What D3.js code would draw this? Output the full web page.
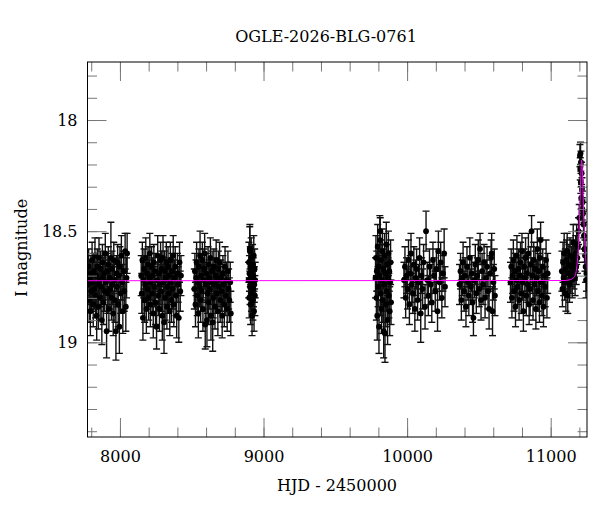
<!DOCTYPE html>
<html>
<head>
<meta charset="utf-8">
<script src="https://cdn.jsdelivr.net/npm/d3@7"></script>
<style>
  body { margin: 0; background: #fff; }
  svg { display: block; font-family: "DejaVu Serif", serif; }
</style>
</head>
<body>
<svg id="chart" width="600" height="512"></svg>
<script>
// photometry, one list per observing season: [HJD-2450000, I mag, error]
const season1 = [
  [7778,18.74,0.09],[7782,18.66,0.08],[7786,18.81,0.10],[7790,18.71,0.08],[7794,18.86,0.11],
  [7798,18.69,0.08],[7802,18.77,0.09],[7806,18.63,0.08],[7810,18.73,0.09],[7814,18.83,0.10],
  [7818,18.68,0.08],[7822,18.76,0.09],[7826,18.61,0.08],[7830,18.79,0.10],[7834,18.70,0.08],
  [7838,18.88,0.11],[7842,18.66,0.08],[7846,18.74,0.09],[7850,18.84,0.10],[7854,18.62,0.09],
  [7858,18.72,0.08],[7862,18.80,0.10],[7866,18.67,0.08],[7870,18.75,0.09],[7874,18.90,0.11],
  [7878,18.64,0.08],[7882,18.71,0.09],[7886,18.82,0.10],[7890,18.69,0.08],[7894,18.77,0.09],
  [7898,18.60,0.09],[7902,18.73,0.08],[7907,18.95,0.12],[7911,18.68,0.08],[7915,18.78,0.09],
  [7919,18.65,0.08],[7923,18.85,0.10],[7927,18.71,0.08],[7931,18.76,0.09],[7937,18.62,0.16],
  [7941,18.80,0.10],[7945,18.67,0.08],[7949,18.74,0.09],[7953,18.87,0.10],[7957,18.63,0.08],
  [7961,18.72,0.09],[7965,18.81,0.10],[7972,18.95,0.13],[7976,18.69,0.08],[7980,18.75,0.09],
  [7984,18.64,0.08],[7988,18.83,0.10],[7992,18.70,0.08],[7996,18.93,0.12],[8000,18.66,0.09],
  [8005,18.78,0.09],[8010,18.61,0.09],[8015,18.73,0.08],[8020,18.86,0.10],[8025,18.68,0.09],
  [8030,18.77,0.09],[8036,18.59,0.08],[8041,18.84,0.11],[8046,18.71,0.09],[8050,18.60,0.09]
];
const season2 = [
  [8148,18.70,0.09],[8152,18.78,0.09],[8156,18.63,0.08],[8160,18.89,0.10],[8164,18.72,0.08],
  [8168,18.67,0.09],[8172,18.81,0.10],[8176,18.74,0.08],[8180,18.62,0.09],[8184,18.85,0.11],
  [8188,18.69,0.08],[8192,18.76,0.09],[8196,18.65,0.08],[8200,18.80,0.10],[8204,18.71,0.08],
  [8208,18.60,0.09],[8212,18.83,0.10],[8216,18.73,0.08],[8220,18.66,0.09],[8224,18.78,0.09],
  [8228,18.70,0.08],[8232,18.87,0.11],[8236,18.64,0.08],[8240,18.75,0.09],[8244,18.68,0.08],
  [8248,18.82,0.10],[8255,18.93,0.10],[8259,18.72,0.08],[8263,18.61,0.09],[8267,18.79,0.09],
  [8271,18.69,0.08],[8275,18.85,0.10],[8279,18.74,0.09],[8283,18.63,0.08],[8287,18.77,0.09],
  [8291,18.67,0.08],[8295,18.88,0.11],[8300,18.62,0.10],[8304,18.73,0.08],[8307,18.91,0.14],
  [8311,18.68,0.09],[8315,18.80,0.10],[8319,18.71,0.08],[8323,18.64,0.09],[8327,18.84,0.10],
  [8331,18.75,0.08],[8335,18.66,0.09],[8339,18.78,0.09],[8343,18.70,0.08],[8347,18.86,0.11],
  [8351,18.63,0.08],[8355,18.73,0.09],[8359,18.81,0.10],[8363,18.68,0.08],[8367,18.76,0.09],
  [8371,18.61,0.09],[8375,18.83,0.10],[8380,18.71,0.08],[8385,18.66,0.09],[8390,18.79,0.09],
  [8395,18.88,0.10],[8400,18.69,0.09],[8405,18.74,0.08],[8410,18.89,0.11],[8415,18.64,0.09],
  [8420,18.77,0.09],[8425,18.70,0.09]
];
const season3 = [
  [8518,18.76,0.09],[8522,18.68,0.08],[8526,18.83,0.10],[8530,18.71,0.08],[8534,18.64,0.09],
  [8538,18.79,0.09],[8542,18.73,0.08],[8546,18.87,0.11],[8550,18.66,0.08],[8554,18.75,0.09],
  [8558,18.61,0.11],[8562,18.81,0.10],[8566,18.70,0.08],[8570,18.77,0.09],[8574,18.63,0.08],
  [8578,18.85,0.10],[8582,18.72,0.08],[8586,18.67,0.09],[8590,18.60,0.09],[8594,18.92,0.11],
  [8598,18.74,0.08],[8602,18.69,0.09],[8606,18.90,0.12],[8610,18.78,0.09],[8614,18.65,0.08],
  [8618,18.82,0.10],[8622,18.71,0.08],[8626,18.76,0.09],[8630,18.62,0.09],[8634,18.88,0.11],
  [8638,18.73,0.08],[8642,18.68,0.09],[8646,18.91,0.13],[8650,18.80,0.09],[8654,18.66,0.08],
  [8658,18.74,0.09],[8662,18.84,0.10],[8666,18.70,0.08],[8670,18.63,0.09],[8674,18.78,0.09],
  [8678,18.72,0.08],[8682,18.86,0.11],[8686,18.67,0.08],[8690,18.75,0.09],[8694,18.64,0.09],
  [8698,18.81,0.10],[8702,18.71,0.08],[8707,18.77,0.09],[8712,18.88,0.10],[8717,18.69,0.08],
  [8722,18.74,0.09],[8727,18.83,0.10],[8732,18.66,0.09],[8737,18.79,0.09],[8742,18.72,0.08],
  [8747,18.85,0.10],[8752,18.68,0.09],[8757,18.76,0.09],[8762,18.81,0.10],[8768,18.73,0.09],
  [8772,18.87,0.10]
];
const season4 = [
  [8896,18.72,0.08],[8898,18.64,0.09],[8900,18.80,0.09],[8902,18.69,0.08],[8904,18.58,0.10],
  [8905,18.59,0.12],[8906,18.75,0.08],[8908,18.66,0.09],[8910,18.83,0.09],[8912,18.71,0.08],
  [8914,18.62,0.09],[8916,18.78,0.08],[8918,18.68,0.08],[8920,18.88,0.09],[8922,18.73,0.08],
  [8924,18.65,0.09],[8926,18.81,0.09],[8928,18.70,0.08],[8930,18.76,0.08],[8932,18.61,0.09],
  [8934,18.86,0.09],[8936,18.74,0.08],[8938,18.67,0.09],[8940,18.79,0.09],[8942,18.72,0.08]
];
const season5 = [
  [9780,18.71,0.09],[9783,18.62,0.10],[9786,18.80,0.10],[9789,18.68,0.09],[9792,18.88,0.11],
  [9795,18.57,0.10],[9798,18.75,0.09],[9801,18.66,0.10],[9804,18.93,0.12],[9807,18.70,0.09],
  [9810,18.54,0.11],[9813,18.50,0.06],[9816,18.78,0.10],[9819,18.63,0.09],[9822,18.85,0.11],
  [9825,18.72,0.09],[9828,18.59,0.10],[9831,18.81,0.10],[9834,18.67,0.09],[9837,18.95,0.12],
  [9840,18.74,0.09],[9843,18.61,0.10],[9846,18.96,0.13],[9849,18.69,0.09],[9852,18.83,0.10],
  [9855,18.56,0.10],[9858,18.77,0.09],[9861,18.65,0.09],[9864,18.90,0.11],[9867,18.71,0.09],
  [9870,18.60,0.10],[9873,18.79,0.10],[9876,18.68,0.09],[9879,18.86,0.11],[9882,18.73,0.09],
  [9885,18.64,0.10],[9888,18.82,0.10]
];
const season6 = [
  [9978,18.72,0.08],[9985,18.66,0.09],[9990,18.80,0.09],[9996,18.70,0.08],[10003,18.76,0.09],
  [10010,18.63,0.09],[10016,18.83,0.09],[10022,18.69,0.08],[10027,18.60,0.09],[10033,18.74,0.08],
  [10040,18.78,0.09],[10047,18.65,0.08],[10054,18.85,0.10],[10060,18.71,0.08],[10066,18.67,0.09],
  [10073,18.81,0.09],[10080,18.73,0.08],[10087,18.62,0.09],[10095,18.87,0.13],[10101,18.70,0.08],
  [10108,18.76,0.09],[10115,18.64,0.08],[10125,18.84,0.10],[10132,18.50,0.09],[10140,18.72,0.08],
  [10148,18.79,0.09],[10156,18.66,0.08],[10164,18.74,0.09],[10172,18.82,0.09],[10180,18.63,0.08],
  [10188,18.70,0.08],[10196,18.77,0.09],[10204,18.67,0.09],[10212,18.86,0.09],[10218,18.59,0.09],
  [10226,18.73,0.08],[10234,18.64,0.09],[10242,18.80,0.09],[10250,18.69,0.08],[10258,18.60,0.11],
  [10264,18.75,0.09]
];
const season7 = [
  [10365,18.74,0.09],[10372,18.68,0.08],[10378,18.81,0.09],[10384,18.71,0.08],[10390,18.64,0.09],
  [10397,18.77,0.09],[10404,18.70,0.08],[10410,18.84,0.09],[10417,18.66,0.09],[10424,18.73,0.08],
  [10430,18.79,0.09],[10437,18.62,0.09],[10444,18.75,0.08],[10450,18.69,0.08],[10456,18.82,0.09],
  [10462,18.89,0.08],[10468,18.72,0.08],[10475,18.65,0.09],[10482,18.78,0.09],[10489,18.70,0.08],
  [10496,18.63,0.09],[10502,18.76,0.08],[10508,18.58,0.07],[10515,18.81,0.09],[10522,18.68,0.08],
  [10529,18.74,0.09],[10536,18.64,0.08],[10543,18.80,0.09],[10550,18.71,0.08],[10557,18.66,0.09],
  [10564,18.77,0.08],[10571,18.85,0.09],[10578,18.69,0.08],[10585,18.62,0.08],[10589,18.60,0.09],
  [10595,18.86,0.11],[10601,18.73,0.08],[10607,18.67,0.09],[10612,18.79,0.09]
];
const season8 = [
  [10720,18.73,0.09],[10725,18.66,0.08],[10730,18.80,0.09],[10735,18.70,0.08],[10740,18.63,0.09],
  [10745,18.77,0.09],[10750,18.68,0.08],[10755,18.84,0.09],[10760,18.72,0.08],[10765,18.61,0.09],
  [10770,18.75,0.08],[10775,18.67,0.09],[10780,18.81,0.09],[10785,18.70,0.08],[10790,18.64,0.09],
  [10795,18.78,0.09],[10800,18.59,0.08],[10805,18.73,0.08],[10810,18.86,0.09],[10815,18.66,0.08],
  [10820,18.71,0.09],[10825,18.62,0.09],[10830,18.79,0.09],[10835,18.69,0.08],[10840,18.74,0.08],
  [10845,18.60,0.09],[10850,18.83,0.09],[10857,18.76,0.12],[10862,18.65,0.08],[10867,18.50,0.07],
  [10872,18.70,0.08],[10877,18.81,0.09],[10882,18.63,0.08],[10887,18.74,0.09],[10892,18.67,0.08],
  [10897,18.85,0.09],[10902,18.71,0.08],[10907,18.58,0.09],[10912,18.77,0.09],[10917,18.68,0.08],
  [10922,18.82,0.09],[10926,18.62,0.09],[10930,18.54,0.08],[10935,18.73,0.08],[10940,18.79,0.09],
  [10945,18.66,0.08],[10950,18.84,0.09],[10956,18.70,0.08],[10962,18.75,0.09],[10968,18.63,0.09],
  [10974,18.80,0.09],[10979,18.69,0.09]
];
const season9 = [
  [11078,18.68,0.09],[11082,18.76,0.08],[11086,18.64,0.09],[11090,18.71,0.08],[11094,18.60,0.09],
  [11098,18.73,0.08],[11102,18.67,0.09],[11106,18.78,0.08],[11110,18.63,0.09],[11115,18.59,0.08],
  [11119,18.79,0.08],[11123,18.69,0.08],[11127,18.65,0.09],[11131,18.74,0.08],[11135,18.61,0.08],
  [11140,18.70,0.08],[11145,18.66,0.09],[11150,18.72,0.08],[11154,18.62,0.08],[11157,18.55,0.08],
  [11162,18.68,0.08],[11166,18.64,0.08],[11170,18.71,0.08],[11174,18.60,0.08],[11178,18.66,0.08],
  [11181,18.56,0.09],[11186,18.62,0.07],[11190,18.57,0.07],[11194,18.50,0.06],[11199,18.44,0.06],
  [11204,18.16,0.05],[11206,18.22,0.05],[11208,18.15,0.05],[11210,18.28,0.05],[11211,18.19,0.05],
  [11213,18.35,0.05],[11215,18.24,0.05],[11218,18.31,0.05],[11220,18.40,0.05],[11222,18.37,0.05],
  [11225,18.42,0.05],[11229,18.47,0.06],[11232,18.52,0.06],[11236,18.58,0.06],[11239,18.61,0.07],
  [11243,18.66,0.07],[11246,18.72,0.08],[11249,18.69,0.08]
];

// microlensing model curve
const modelHjd = [7700, 11100, 11140, 11160, 11170, 11180, 11188, 11193, 11197, 11201, 11205, 11209,
  11213, 11216, 11219, 11223, 11227, 11231, 11235, 11239, 11244, 11252, 11262, 11300];
const modelMag = [18.723, 18.722, 18.717, 18.709, 18.70, 18.67, 18.62, 18.57, 18.51, 18.44, 18.36, 18.27,
  18.20, 18.18, 18.20, 18.27, 18.36, 18.44, 18.51, 18.57, 18.62, 18.67, 18.70, 18.72];

const xTicks = [8000, 9000, 10000, 11000];
const xMinorTicks = [7800, 8000, 8200, 8400, 8600, 8800, 9000, 9200, 9400, 9600, 9800,
  10000, 10200, 10400, 10600, 10800, 11000, 11200];
const yTicks = [18, 18.5, 19];
const yMinorTicks = [17.8, 17.9, 18, 18.1, 18.2, 18.3, 18.4, 18.5, 18.6, 18.7, 18.8, 18.9,
  19, 19.1, 19.2, 19.3, 19.4];

const title = "OGLE-2026-BLG-0761";

const box = { left: 87.5, right: 587, top: 62, bottom: 437 };

const svg = d3.select("#chart");

let x = d3.scaleLinear().domain([7774, 11253]).range([box.left, box.right]);
let y = d3.scaleLinear().domain([17.739, 19.426]).range([box.top, box.bottom]);

svg.append("defs").append("clipPath").attr("id", "plotClip")
  .append("rect")
  .attr("x", box.left).attr("y", box.top)
  .attr("width", box.right - box.left).attr("height", box.bottom - box.top);

const points = [season1, season2, season3, season4, season5, season6, season7, season8, season9]
  .flat()
  .map(d => ({ t: d[0], m: d[1], e: d[2] }));

let plot = svg.append("g").attr("clip-path", "url(#plotClip)");

// error bars
let bars = plot.append("g")
  .attr("stroke", "#111")
  .attr("stroke-width", 1.4)
  .selectAll("g")
  .data(points)
  .enter()
  .append("g");

bars.append("line")
  .attr("x1", d => x(d.t)).attr("x2", d => x(d.t))
  .attr("y1", d => y(d.m - d.e)).attr("y2", d => y(d.m + d.e));
bars.append("line")
  .attr("x1", d => x(d.t) - 3.5).attr("x2", d => x(d.t) + 3.5)
  .attr("y1", d => y(d.m - d.e)).attr("y2", d => y(d.m - d.e));
bars.append("line")
  .attr("x1", d => x(d.t) - 3.5).attr("x2", d => x(d.t) + 3.5)
  .attr("y1", d => y(d.m + d.e)).attr("y2", d => y(d.m + d.e));

plot.append("g")
  .selectAll("circle")
  .data(points)
  .enter()
  .append("circle")
  .attr("cx", d => x(d.t))
  .attr("cy", d => y(d.m))
  .attr("r", 2.9)
  .style("fill", "#000");

// model on top
let model = modelHjd.map((t, i) => [t, modelMag[i]]);
plot.append("path")
  .datum(model)
  .attr("fill", "none")
  .attr("stroke", "#ff00ff")
  .attr("stroke-width", 1)
  .attr("d", d3.line().x(d => x(d[0])).y(d => y(d[1])).curve(d3.curveMonotoneX));

// ticks on all four sides, pointing inward
const tickColor = "#777";
const styleAxis = g => {
  g.select(".domain").remove();
  g.selectAll(".tick line").attr("stroke", tickColor);
  g.selectAll("text").attr("fill", "#000").style("font-size", "16px")
    .style("font-family", "'DejaVu Serif', serif");
};

svg.append("g").attr("transform", `translate(0,${box.bottom})`)
  .call(d3.axisBottom(x).tickValues(xMinorTicks).tickSize(-9.5).tickFormat(""))
  .call(styleAxis);
svg.append("g").attr("transform", `translate(0,${box.bottom})`)
  .call(d3.axisBottom(x).tickValues(xTicks).tickSize(-19).tickPadding(14).tickFormat(d3.format("d")))
  .call(styleAxis);
svg.append("g").attr("transform", `translate(0,${box.top})`)
  .call(d3.axisTop(x).tickValues(xMinorTicks).tickSize(-9.5).tickFormat(""))
  .call(styleAxis);
svg.append("g").attr("transform", `translate(0,${box.top})`)
  .call(d3.axisTop(x).tickValues(xTicks).tickSize(-19).tickFormat(""))
  .call(styleAxis);

svg.append("g").attr("transform", `translate(${box.left},0)`)
  .call(d3.axisLeft(y).tickValues(yMinorTicks).tickSize(-9.5).tickFormat(""))
  .call(styleAxis);
svg.append("g").attr("transform", `translate(${box.left},0)`)
  .call(d3.axisLeft(y).tickValues(yTicks).tickSize(-19).tickPadding(10).tickFormat(d => String(d)))
  .call(styleAxis);
svg.append("g").attr("transform", `translate(${box.right},0)`)
  .call(d3.axisRight(y).tickValues(yMinorTicks).tickSize(-9.5).tickFormat(""))
  .call(styleAxis);
svg.append("g").attr("transform", `translate(${box.right},0)`)
  .call(d3.axisRight(y).tickValues(yTicks).tickSize(-19).tickFormat(""))
  .call(styleAxis);

// frame
svg.append("rect")
  .attr("x", box.left).attr("y", box.top)
  .attr("width", box.right - box.left).attr("height", box.bottom - box.top)
  .attr("fill", "none").attr("stroke", "#000").attr("stroke-width", 1);

// titles
svg.append("text")
  .attr("x", 326).attr("y", 42)
  .attr("text-anchor", "middle")
  .style("font-size", "16px")
  .text(title);

svg.append("text")
  .attr("x", 337).attr("y", 491)
  .attr("text-anchor", "middle")
  .style("font-size", "16px")
  .text("HJD - 2450000");

svg.append("text")
  .attr("transform", "translate(27,248) rotate(-90)")
  .attr("text-anchor", "middle")
  .style("font-size", "16px")
  .text("I magnitude");
</script>
</body>
</html>
